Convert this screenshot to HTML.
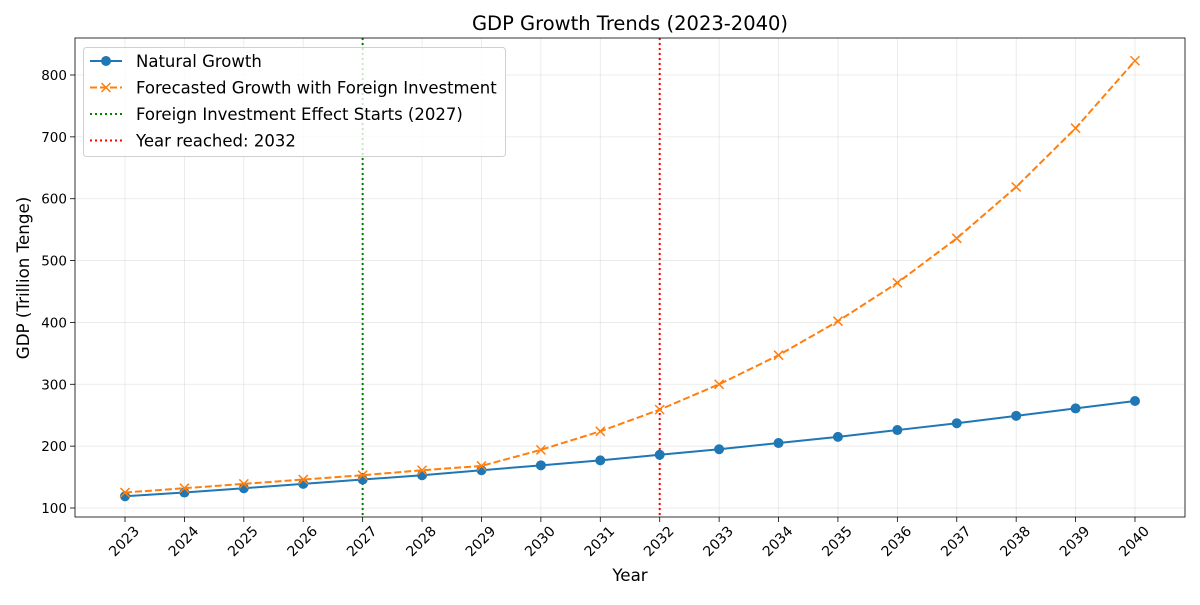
<!DOCTYPE html>
<html><head><meta charset="utf-8"><style>
body{margin:0;background:#fff;}
svg text{font-family:"DejaVu Sans","Liberation Sans",sans-serif;fill:#000;}
</style></head><body>
<svg id="chart" width="1200" height="600" xmlns="http://www.w3.org/2000/svg"></svg>
<script>
const years=[2023,2024,2025,2026,2027,2028,2029,2030,2031,2032,2033,2034,2035,2036,2037,2038,2039,2040];
const natural=[119,125,132,139,146,153,161,169,177,186,195,205,215,226,237,249,261,273];
const forecast=[125,132,139,146,153,161,168,194,224,259,300,347,402,464,536,619,714,823];
const yTicks=[100,200,300,400,500,600,700,800];
const startYear=2027;
const reachedYear=2032;

const svg=document.getElementById('chart');
const NS='http://www.w3.org/2000/svg';
const L=75,R=1185,T=38,B=517;
const xs=y=>125+(y-2023)*(1010/17);
const ys=v=>508-(v-100)*(433/700);
function el(tag,attrs,parent){const e=document.createElementNS(NS,tag);for(const k in attrs)e.setAttribute(k,attrs[k]);(parent||svg).appendChild(e);return e;}

let t=el('text',{x:630,y:30,'font-size':19.5,'text-anchor':'middle'});t.textContent='GDP Growth Trends (2023-2040)';



const grid=el('g',{});


years.forEach(y=>el('line',{x1:xs(y),x2:xs(y),y1:T,y2:B,stroke:'#b0b0b0','stroke-opacity':0.3,'stroke-width':0.8},grid));
yTicks.forEach(v=>el('line',{x1:L,x2:R,y1:ys(v),y2:ys(v),stroke:'#b0b0b0','stroke-opacity':0.3,'stroke-width':0.8},grid));

const xt=el('g',{});


years.forEach(y=>{const x=xs(y);el('line',{x1:x,x2:x,y1:B,y2:B+5,stroke:'#000','stroke-width':0.8},xt);
 const tx=el('text',{x:0,y:0,'font-size':14,'text-anchor':'end',transform:`translate(${x+15},${B+15}) rotate(-45)`},xt);tx.textContent=y;});
const yt=el('g',{});


yTicks.forEach(v=>{const y=ys(v);el('line',{x1:L-5,x2:L,y1:y,y2:y,stroke:'#000','stroke-width':0.8},yt);
 const tx=el('text',{x:L-8,y:y+5,'font-size':13.5,'text-anchor':'end'},yt);tx.textContent=v;});

let xl=el('text',{x:630,y:581,'font-size':16.7,'text-anchor':'middle'});xl.textContent='Year';


let yl=el('text',{x:0,y:0,'font-size':16.7,'text-anchor':'middle',transform:`translate(29,278) rotate(-90)`});yl.textContent='GDP (Trillion Tenge)';



const vg=el('line',{x1:xs(startYear),x2:xs(startYear),y1:T,y2:B,stroke:'green','stroke-width':2,'stroke-dasharray':'2,3'});


const vr=el('line',{x1:xs(reachedYear),x2:xs(reachedYear),y1:T,y2:B,stroke:'red','stroke-width':2,'stroke-dasharray':'2,3'});



const np=el('polyline',{points:years.map((y,i)=>xs(y)+','+ys(natural[i])).join(' '),fill:'none',stroke:'#1f77b4','stroke-width':2});


years.forEach((y,i)=>{const c=el('circle',{cx:xs(y),cy:ys(natural[i]),r:5,fill:'#1f77b4'});
 
 });

const fp=el('polyline',{points:years.map((y,i)=>xs(y)+','+ys(forecast[i])).join(' '),fill:'none',stroke:'#ff7f0e','stroke-width':2,'stroke-dasharray':'7,3'});


years.forEach((y,i)=>{const x=xs(y),v=ys(forecast[i]);
 const p=el('path',{d:`M${x-4.5},${v-4.5}L${x+4.5},${v+4.5}M${x-4.5},${v+4.5}L${x+4.5},${v-4.5}`,stroke:'#ff7f0e','stroke-width':1.5});
 
 });

const fr=el('rect',{x:L,y:T,width:R-L,height:B-T,fill:'none',stroke:'#000','stroke-width':0.8});



const lg=el('g',{});


el('rect',{x:83.5,y:47.5,width:422,height:109,rx:3,fill:'#fff','fill-opacity':0.8,stroke:'#d0d0d0'},lg);
const items=[['Natural Growth','#1f77b4','','o'],['Forecasted Growth with Foreign Investment','#ff7f0e','7,3','x'],['Foreign Investment Effect Starts (2027)','green','2,3',''],['Year reached: 2032','red','2,3','']];
items.forEach((it,i)=>{const y=61+i*26.5;
 const g=el('g',{},lg);
 
 
 el('line',{x1:90,x2:122,y1:y,y2:y,stroke:it[1],'stroke-width':2,'stroke-dasharray':it[2]||'none'},g);
 if(it[3]==='o')el('circle',{cx:106,cy:y,r:5,fill:it[1]},g);
 if(it[3]==='x')el('path',{d:`M101.5,${y-4.5}L110.5,${y+4.5}M101.5,${y+4.5}L110.5,${y-4.5}`,stroke:it[1],'stroke-width':1.5},g);
 const tx=el('text',{x:136,y:y+6,'font-size':16.5},g);tx.textContent=it[0];});
</script>
</body></html>
